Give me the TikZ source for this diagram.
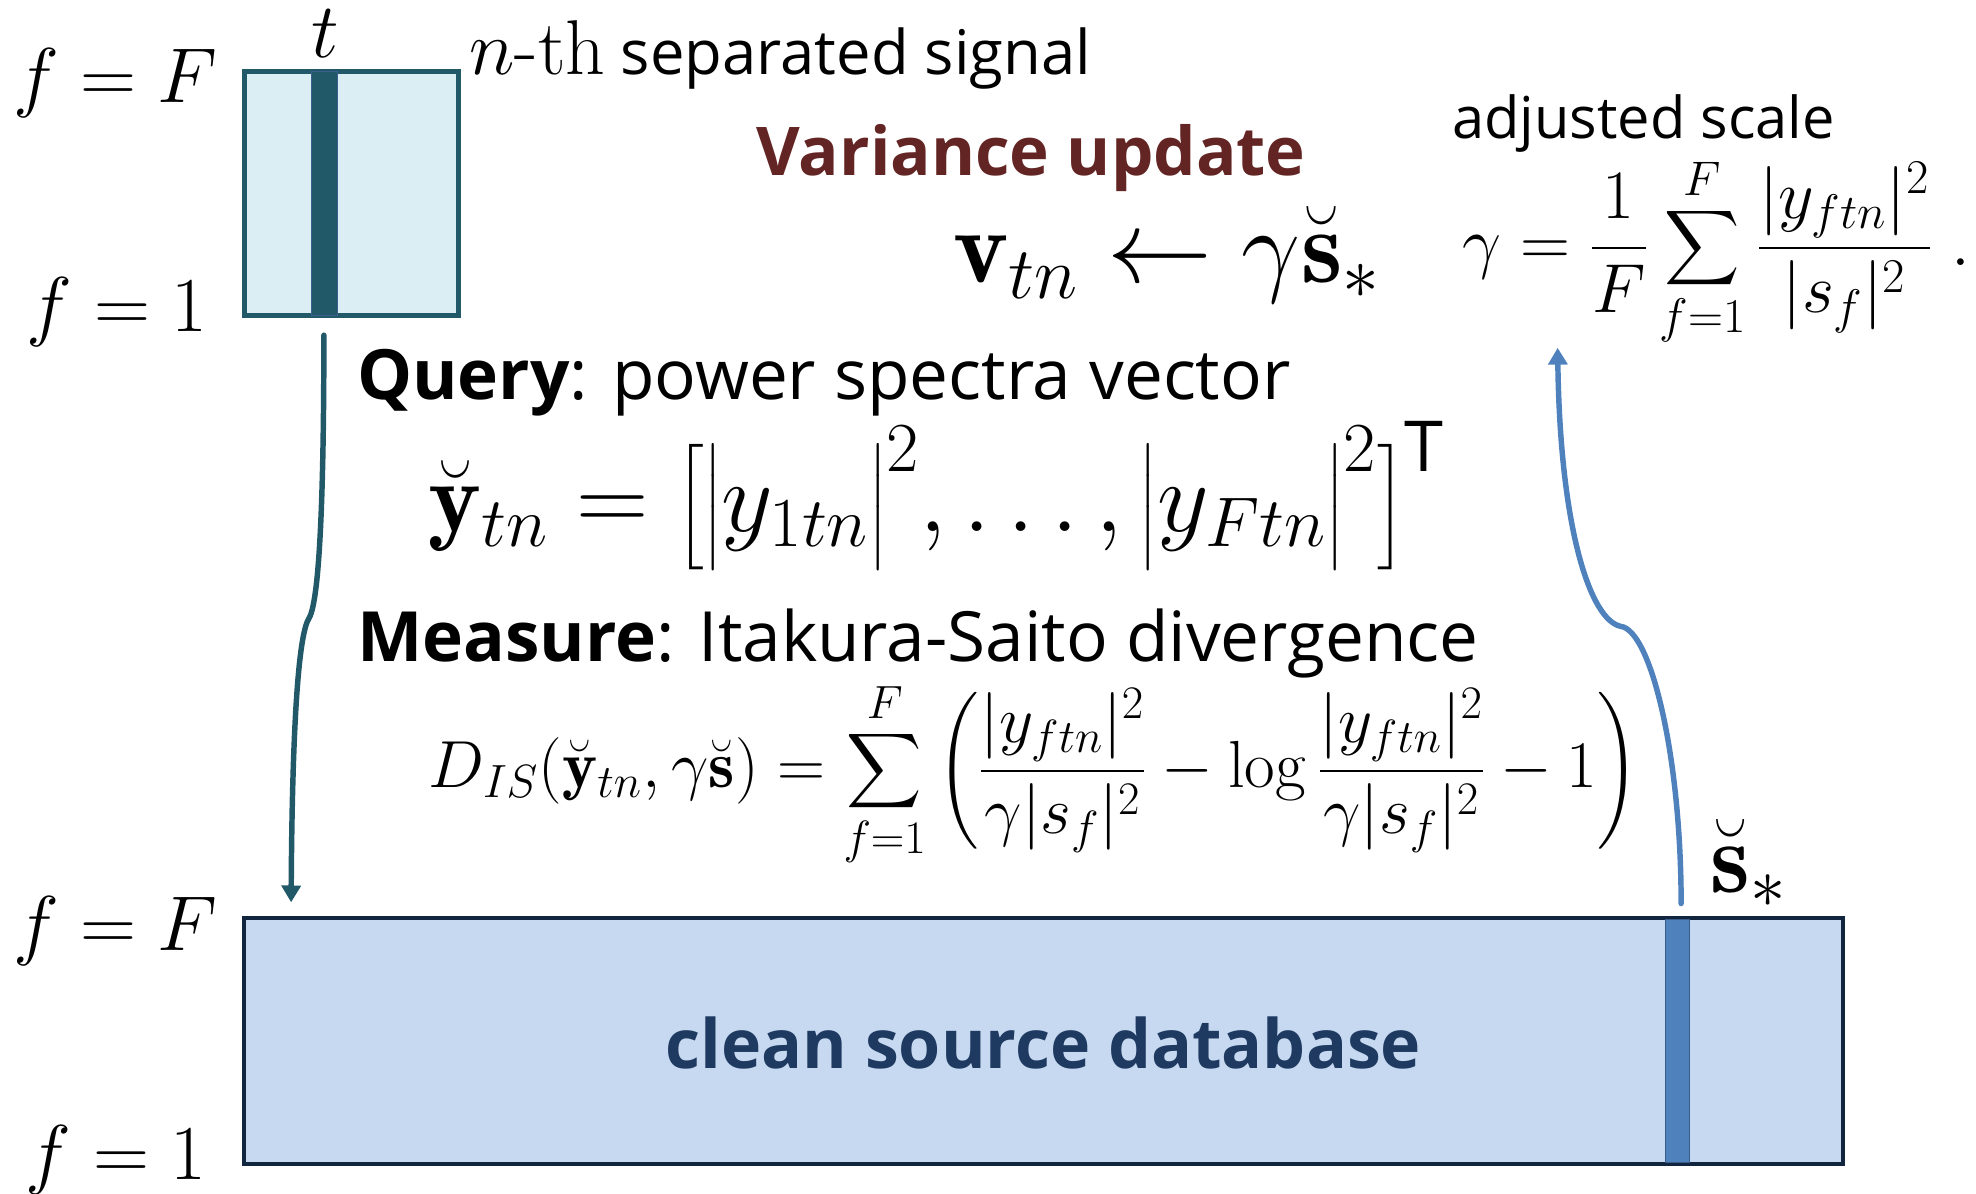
\RequirePackage{fix-cm}
\documentclass[tikz,border=0pt]{standalone}
\usepackage{amsmath}
\usepackage{fontspec}
\newfontfamily\uifont{Open Sans}
\usetikzlibrary{arrows.meta}
\definecolor{cTopFill}{HTML}{DBEEF4}
\definecolor{cTeal}{HTML}{215968}
\definecolor{cColB}{HTML}{3B5E8C}
\definecolor{cDbFill}{HTML}{C6D9F1}
\definecolor{cNavy}{HTML}{11253F}
\definecolor{cBlue}{HTML}{4F81BD}
\definecolor{cStripeB}{HTML}{385D8A}
\definecolor{cRed}{HTML}{632523}
\definecolor{cDbText}{HTML}{1F3A60}
\tikzset{
  mlbl/.style={inner sep=0pt, font=\fontsize{37}{42}\selectfont},
  bigmath/.style={inner sep=0pt, font=\fontsize{47.8}{54}\selectfont},
  dispmath/.style={inner sep=0pt, font=\fontsize{31.7}{36}\selectfont},
  sanslbl/.style={inner sep=0pt, font=\uifont\fontsize{29.3}{34}\selectfont},
  headlbl/.style={inner sep=0pt, font=\uifont\fontsize{33}{40}\selectfont},
  conn/.style={line width=2.6pt, line cap=round},
}
\begin{document}
\begin{tikzpicture}[x=0.6pt, y=-0.6pt]
\useasboundingbox (0,0) rectangle (1568,947);
% top box
\node[draw=cTeal, line width=2.4pt, fill=cTopFill, minimum width=102pt, minimum height=115.8pt, inner sep=0pt] (topbox) at (279,153.5) {};
\node[draw=cColB, line width=0.5pt, fill=cTeal, minimum width=12pt, minimum height=115.8pt, inner sep=0pt] (col) at (257.5,153.5) {};
% bottom box
\node[draw=cNavy, line width=2pt, fill=cDbFill, minimum width=761.4pt, minimum height=117pt, inner sep=0pt] (db) at (828,826) {};
\node[draw=cStripeB, line width=0.5pt, fill=cBlue, minimum width=11.5pt, minimum height=116pt, inner sep=0pt] (stripe) at (1331,826) {};
\node[inner sep=0pt, text=cDbText, font=\uifont\bfseries\fontsize{32.4}{40}\selectfont] (dbtxt) at (828,828) {clean source database};
% f labels
\node[mlbl, anchor=base west] (fFt) at (10,81) {$f=F$};
\node[mlbl, anchor=base west] (f1t) at (21,263) {$f=1$};
\node[mlbl, anchor=base west] (fFb) at (10,754) {$f=F$};
\node[mlbl, anchor=base west] (f1b) at (20,936) {$f=1$};
\node[mlbl, anchor=base] (tlbl) at (258,46) {$t$};
% top texts
\node[mlbl, anchor=base west] (nth) at (372,59) {$n$-th};
\node[sanslbl, anchor=base west] (sep) at ([xshift=7pt]nth.base east) {separated signal};
\node[inner sep=0pt, anchor=base west, text=cRed, font=\uifont\bfseries\fontsize{32}{40}\selectfont] (var) at (600,139) {Variance update};
\node[sanslbl, anchor=base west, font=\uifont\fontsize{27.5}{34}\selectfont] (adj) at (1152,110) {adjusted scale};
\node[bigmath, anchor=base west, font=\fontsize{50}{56}\selectfont] (vup) at (756,224) {$\mathbf{v}_{tn}\leftarrow\gamma\breve{\mathbf{s}}_*$};
\node[dispmath, anchor=west, font=\fontsize{33}{38}\selectfont] (gam) at (1160,200) {$\displaystyle\gamma=\frac{1}{F}\sum_{f=1}^{F}\frac{|y_{ftn}|^2}{|s_f|^2}\;.$};
% query / measure
\node[headlbl, anchor=base west] (query) at (283,317) {\textbf{Query}: power spectra vector};
\node[bigmath, anchor=base west] (vec) at (340,422) {$\breve{\mathbf{y}}_{tn}=\bigl[\bigl|y_{1tn}\bigr|^2,\ldots,\bigl|y_{Ftn}\bigr|^2\bigr]^{\text{\uifont T}}$};
\node[headlbl, anchor=base west] (meas) at (283,525) {\textbf{Measure}: Itakura-Saito divergence};
\node[dispmath, anchor=west] (dis) at (340,615) {$\displaystyle D_{IS}(\breve{\mathbf{y}}_{tn},\gamma\breve{\mathbf{s}})=\sum_{f=1}^{F}\left(\frac{|y_{ftn}|^2}{\gamma|s_f|^2}-\log\frac{|y_{ftn}|^2}{\gamma|s_f|^2}-1\right)$};
\node[bigmath, anchor=base west, font=\fontsize{48}{54}\selectfont] (sstar) at (1357,708) {$\breve{\mathbf{s}}_*$};
% connectors
\coordinate (la) at (257,266);
\coordinate (lk) at (245,491);
\coordinate (lb) at (231,716);
\draw[conn, cTeal, -{Triangle[width=9pt,length=8pt]}] (la) .. controls (257,420) and (252,480) .. (lk) .. controls (238,502) and (232,560) .. (lb);
\coordinate (ra) at (1334,717);
\coordinate (rk) at (1286,497);
\coordinate (rb) at (1236,276);
\draw[conn, cBlue, -{Triangle[width=9pt,length=8pt]}] (ra) .. controls (1334,600) and (1310,500) .. (rk) .. controls (1262,492) and (1238,420) .. (rb);
\end{tikzpicture}
\end{document}
